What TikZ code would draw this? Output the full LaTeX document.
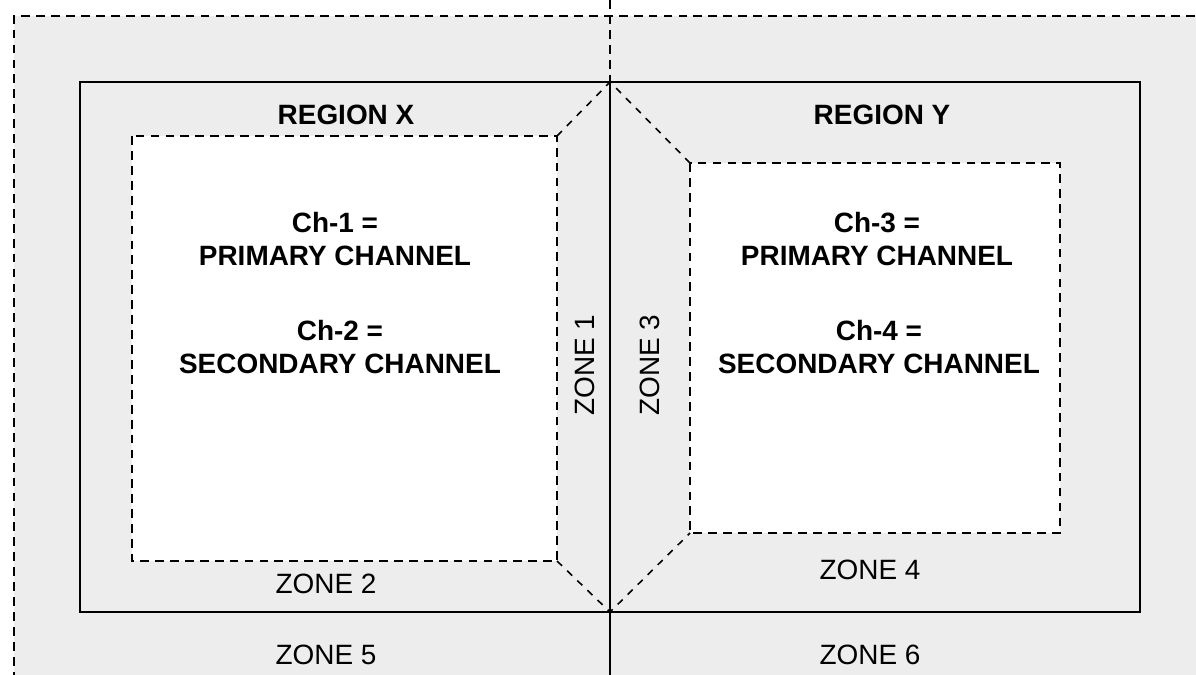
\documentclass[tikz,border=0pt]{standalone}
\usepackage{fontspec}
\setmainfont{Liberation Sans}
\tikzset{
    zonefill/.style={fill=black!7},
    dashline/.style={line width=1.1pt, dash pattern=on 5pt off 3.5pt},
    solidline/.style={line width=1.1pt},
    diagline/.style={line width=0.9pt, dash pattern=on 4pt off 4pt},
    regiontitle/.style={font=\fontsize{15.9}{19.3}\selectfont\bfseries},
    chantext/.style={font=\fontsize{15.9}{19.3}\selectfont\bfseries, align=center},
    zonetext/.style={font=\fontsize{15.9}{19.3}\selectfont},
}
\begin{document}
\begin{tikzpicture}[x=0.02cm, y=-0.02cm]
    \useasboundingbox (0, 0) rectangle (1196, 675);
    \clip (0, 0) rectangle (1196, 675);

    % key points
    \coordinate (top) at (610, 82);
    \coordinate (bot) at (610, 612);

    % zones 5 and 6 (outer dashed area)
    \fill[white] (0, 0) rectangle (1196, 675);
    \fill[zonefill] (14, 16) rectangle (1210, 690);
    \draw[dashline] (1210, 16) -- (14, 16) -- (14, 690);

    % channel boxes
    \fill[white] (132, 136) rectangle (557, 561);
    \fill[white] (690, 163) rectangle (1060, 533);
    \draw[dashline] (132, 136) rectangle (557, 561);
    \draw[dashline] (690, 163) rectangle (1060, 533);

    % zone borders
    \draw[diagline] (557, 136) -- (top) -- (690, 163);
    \draw[diagline] (557, 561) -- (bot) -- (690, 533);
    \draw[solidline] (80, 82) rectangle (1140, 612);
    \draw[dashline] (610, 0) -- (top);
    \draw[solidline] (top) -- (610, 680);

    % region X
    \node[regiontitle] (regx) at (346, 115) {REGION X};
    \node[chantext] (ch1) at (335, 239) {Ch-1 =\\PRIMARY CHANNEL};
    \node[chantext] (ch2) at (340, 347) {Ch-2 =\\SECONDARY CHANNEL};

    % region Y
    \node[regiontitle] (regy) at (882, 115) {REGION Y};
    \node[chantext] (ch3) at (877, 239) {Ch-3 =\\PRIMARY CHANNEL};
    \node[chantext] (ch4) at (879, 347) {Ch-4 =\\SECONDARY CHANNEL};

    % zone labels
    \node[zonetext, rotate=90] (zone1) at (585, 365) {ZONE 1};
    \node[zonetext, rotate=90] (zone3) at (650, 365) {ZONE 3};
    \node[zonetext] (zone2) at (326, 584) {ZONE 2};
    \node[zonetext] (zone4) at (870, 570) {ZONE 4};
    \node[zonetext] (zone5) at (326, 655) {ZONE 5};
    \node[zonetext] (zone6) at (870, 655) {ZONE 6};
\end{tikzpicture}
\end{document}
